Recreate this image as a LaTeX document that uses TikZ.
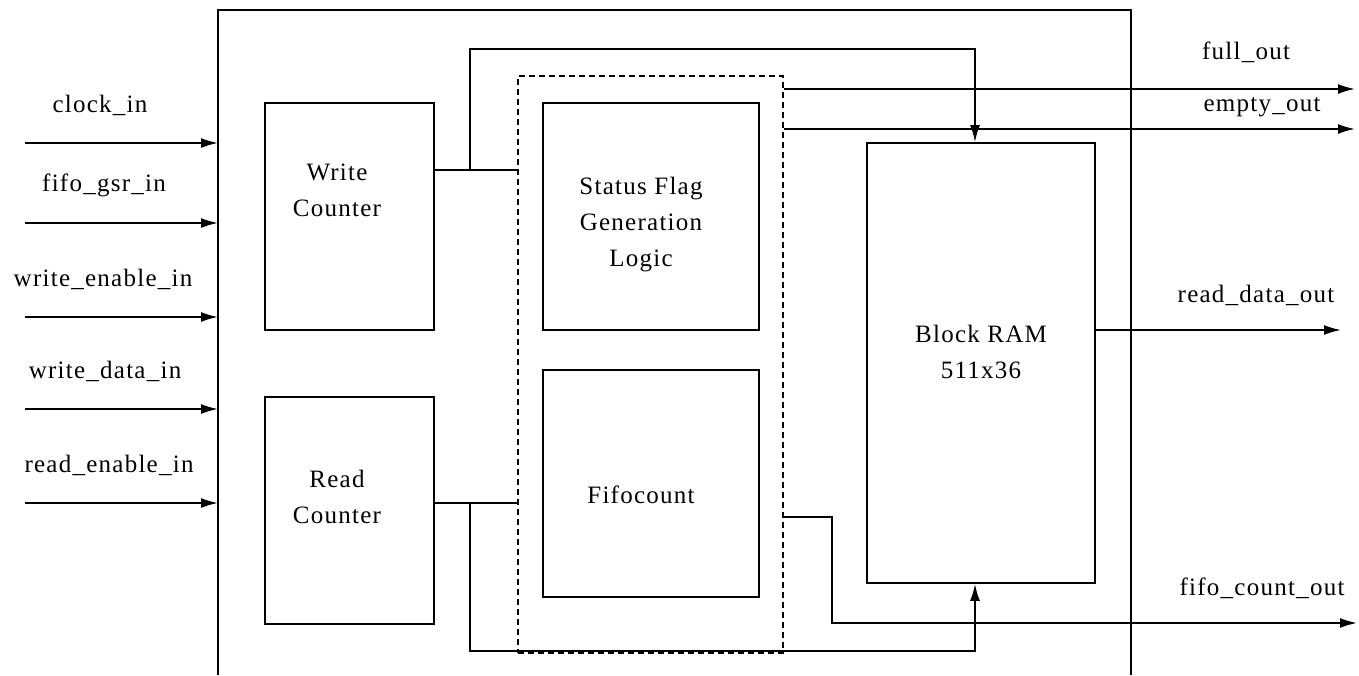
\documentclass[tikz,border=0pt]{standalone}
\usepackage{fontspec}
\setmainfont{Liberation Serif}[LetterSpace=5]
\usepackage{tikz}
\usetikzlibrary{arrows.meta, positioning, fit}

\tikzset{
    blk/.style={draw, line width=0.9pt, inner sep=0pt},
    grp/.style={draw, line width=0.9pt, inner sep=0pt, dash pattern=on 3pt off 2pt},
    wire/.style={line width=0.9pt},
    sig/.style={line width=0.9pt, -{Latex[length=8.5pt, width=5pt]}},
    txt/.style={align=center, font=\fontsize{12.5}{18}\selectfont, inner sep=0pt},
}

\begin{document}
\begin{tikzpicture}[x=0.5pt, y=-0.5pt]
    \useasboundingbox (0,0) rectangle (1359,675);

    % chip outline
    \coordinate (chipbl) at (218,675);
    \coordinate (chiptr) at (1131,10);
    \draw[wire] (chipbl) |- (chiptr) -- (chiptr |- chipbl);

    % blocks
    \node[blk, fit={(265,103) (434,330)}] (wcnt) {};
    \node[blk, fit={(265,397) (434,624)}] (rcnt) {};
    \node[grp, fit={(518,76) (783,653)}] (flags) {};
    \node[blk, fit={(543,103) (759,330)}] (stat) {};
    \node[blk, fit={(543,370) (759,597)}] (fcnt) {};
    \node[blk, fit={(867,143) (1095,583)}] (ram) {};

    \node[txt] (wcntlbl) at (337,190) {Write\\Counter};
    \node[txt] (rcntlbl) at (337,497) {Read\\Counter};
    \node[txt] (statlbl) at (641,225) {Status Flag\\Generation\\Logic};
    \node[txt] (fcntlbl) at (641,495) {Fifocount};
    \node[txt] (ramlbl) at (981,352) {Block RAM\\511x36};

    % inputs
    \foreach \y/\lbl/\lx [count=\i] in {143/clock\_in/100, 223/fifo\_gsr\_in/104, 317/write\_enable\_in/103, 409/write\_data\_in/105, 503/read\_enable\_in/109} {
        \coordinate (in\i) at (25,\y);
        \draw[sig] (in\i) -- (in\i -| chipbl);
        \node[txt] (inlbl\i) at (\lx,\y-38) {\lbl};
    }

    % write and read counter buses
    \coordinate (wtap) at (470,170);
    \coordinate (wtop) at (975,49);
    \draw[wire] (wcnt.east |- wtap) -- (wtap -| flags.west);
    \draw[sig] (wtap) |- (wtop) -- (wtop |- ram.north);

    \coordinate (rtap) at (470,503);
    \coordinate (rbot) at (975,651);
    \draw[wire] (rcnt.east |- rtap) -- (rtap -| flags.west);
    \draw[sig] (rtap) |- (rbot) -- (rbot |- ram.south);

    % outputs
    \coordinate (fullo) at (1355,89);
    \coordinate (emptyo) at (1355,129);
    \coordinate (rdo) at (1341,330);
    \coordinate (fbend) at (832,517);
    \coordinate (fco) at (1357,623);
    \draw[sig] (flags.east |- fullo) -- (fullo);
    \draw[sig] (flags.east |- emptyo) -- (emptyo);
    \draw[sig] (ram.east |- rdo) -- (rdo);
    \draw[sig] (flags.east |- fbend) -- (fbend) |- (fco);

    \node[txt] (fulllbl) at (1246,52) {full\_out};
    \node[txt] (emptylbl) at (1262,107) {empty\_out};
    \node[txt] (rdolbl) at (1256,295) {read\_data\_out};
    \node[txt] (fcolbl) at (1262,588) {fifo\_count\_out};
\end{tikzpicture}
\end{document}
